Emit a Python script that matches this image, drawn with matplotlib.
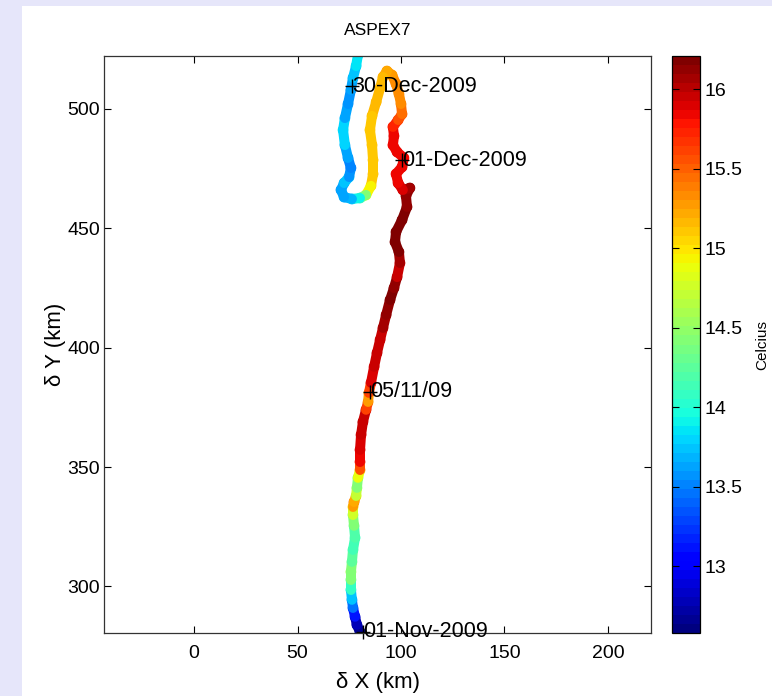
import numpy as np
import matplotlib
matplotlib.use("Agg")
import matplotlib.pyplot as plt
from matplotlib.collections import LineCollection
from matplotlib.patches import Rectangle

plt.rcParams['font.family'] = ['Liberation Sans', 'DejaVu Sans']

# drifter track (km offsets) and temperature along it
dx = [80.2, 78.7, 77.8, 76.8, 76.3, 75.8, 75.8, 75.8, 76.3, 76.8,
      77.8, 77.3, 76.8, 76.8, 77.3, 78.3, 78.7, 79.2, 80.2, 80.2,
      80.2, 80.7, 81.6, 83.1, 84.1, 84.5, 85.5, 87.0, 88.4, 89.9,
      91.3, 92.8, 94.7, 96.6, 98.1, 99.5, 99.0, 97.1, 97.6, 100.5,
      102.9, 102.4, 104.3, 100.9, 98.6, 97.6, 100.5, 101.4, 98.1, 96.1,
      96.6, 96.1, 98.6, 100.5, 100.0, 99.0, 97.6, 95.7, 93.2, 91.3,
      89.9, 88.0, 86.0, 85.0, 86.0, 86.5, 86.5, 85.5, 83.1, 80.2,
      76.3, 72.5, 71.0, 72.5, 74.9, 75.8, 74.4, 72.9, 72.0, 72.9,
      74.4, 75.8, 76.8, 78.3, 79.2]
dy = [281.0, 283.9, 287.3, 291.0, 294.4, 298.6, 302.8, 306.1, 310.3, 315.3,
      320.4, 325.4, 330.0, 333.3, 335.4, 337.9, 341.3, 345.5, 348.8, 352.2,
      357.2, 363.5, 368.9, 374.0, 377.3, 381.1, 385.3, 392.0, 397.8, 403.3,
      408.3, 413.7, 420.0, 425.0, 429.6, 435.5, 440.1, 444.3, 448.5, 453.5,
      459.0, 463.6, 466.9, 466.1, 469.0, 472.8, 475.7, 479.5, 482.0, 484.9,
      488.7, 492.5, 495.4, 497.9, 502.1, 506.3, 510.5, 514.2, 515.9, 513.4,
      508.8, 502.9, 497.1, 491.2, 484.9, 478.6, 472.8, 467.8, 464.0, 462.7,
      462.3, 463.1, 466.1, 469.0, 471.5, 475.3, 479.5, 484.9, 491.2, 496.2,
      502.1, 508.0, 513.0, 518.0, 522.6]
temp = [12.6, 12.7, 12.9, 13.3, 13.6, 13.9, 14.3, 14.6, 14.3, 14.2,
        14.1, 14.3, 14.5, 15.0, 15.5, 14.9, 14.5, 14.4, 15.3, 15.8,
        15.9, 15.9, 16.0, 15.9, 15.3, 15.3, 15.9, 15.9, 16.0, 15.9,
        16.0, 16.1, 16.2, 16.2, 16.0, 15.9, 16.2, 16.2, 16.2, 16.2,
        16.2, 16.1, 16.2, 15.9, 15.9, 15.8, 15.9, 15.8, 15.9, 15.8,
        15.9, 15.8, 15.6, 15.5, 15.4, 15.3, 15.4, 15.3, 15.25, 15.2,
        15.15, 15.15, 15.15, 15.1, 15.15, 15.1, 15.15, 15.05, 14.8, 14.1,
        13.7, 13.7, 13.6, 13.7, 13.8, 13.4, 13.6, 13.7, 13.9, 13.7,
        13.6, 13.6, 13.7, 13.8, 13.9]

# date labels
lab_text = ['01-Nov-2009', '05/11/09', '01-Dec-2009', '30-Dec-2009']
lab_x = [81.6, 85.0, 100.5, 76.3]
lab_y = [281.0, 381.5, 478.6, 509.6]

tmin, tmax = 12.58, 16.21
cmap = plt.get_cmap('jet', 64)
norm = plt.Normalize(tmin, tmax)

fig = plt.figure(figsize=(7.72, 6.96), dpi=100)
fig.patch.set_facecolor('#e6e6fa')
fig.patches.append(Rectangle((22 / 772, 0), 750 / 772, 690 / 696,
                             transform=fig.transFigure, facecolor='white',
                             edgecolor='none', zorder=-10))

ax = fig.add_axes([104 / 772, 63 / 696, 547 / 772, 577 / 696])
cax = fig.add_axes([672 / 772, 63 / 696, 28 / 772, 577 / 696])

x = np.array(dx)
y = np.array(dy)
t = np.array(temp)
pts = np.column_stack([x, y]).reshape(-1, 1, 2)
segs = np.concatenate([pts[:-1], pts[1:]], axis=1)
lc = LineCollection(segs, cmap=cmap, norm=norm, linewidths=7.2,
                    capstyle='round', joinstyle='round')
lc.set_array((t[:-1] + t[1:]) / 2)
ax.add_collection(lc)
sc = ax.scatter(x, y, c=t, cmap=cmap, norm=norm, s=60, edgecolors='none')

for s, px, py in zip(lab_text, lab_x, lab_y):
    ax.plot(px, py, '+', color='black', ms=10, mew=1.0, clip_on=False)
    ax.text(px, py, s, ha='left', va='center', fontsize=15.5, clip_on=False)

ax.set_xlim(-43.5, 220.8)
ax.set_ylim(280.5, 522.2)
ax.set_xticks([0, 50, 100, 150, 200])
ax.set_yticks([300, 350, 400, 450, 500])
ax.tick_params(direction='in', length=5, top=True, right=True, labelsize=14,
               width=0.8)
ax.tick_params(axis='x', pad=9)
ax.tick_params(axis='y', pad=3)
for sp in ax.spines.values():
    sp.set_linewidth(0.9)
    sp.set_color('#333333')
ax.set_title('ASPEX7', fontsize=12.5, pad=15)
ax.set_xlabel('δ X (km)', fontsize=16, labelpad=7)
ax.set_ylabel('δ Y (km)', fontsize=16, labelpad=1)

cb = fig.colorbar(plt.cm.ScalarMappable(norm=norm, cmap=cmap), cax=cax)
cb.set_ticks([13, 13.5, 14, 14.5, 15, 15.5, 16])
cb.ax.set_yticklabels(['13', '13.5', '14', '14.5', '15', '15.5', '16'])
cb.ax.tick_params(direction='in', length=5, left=True, right=True,
                  labelsize=14, width=0.8)
cb.outline.set_linewidth(0.9)
cb.set_label('Celcius', fontsize=11, labelpad=9)

fig.savefig('out.png', dpi=100, facecolor=fig.get_facecolor())
